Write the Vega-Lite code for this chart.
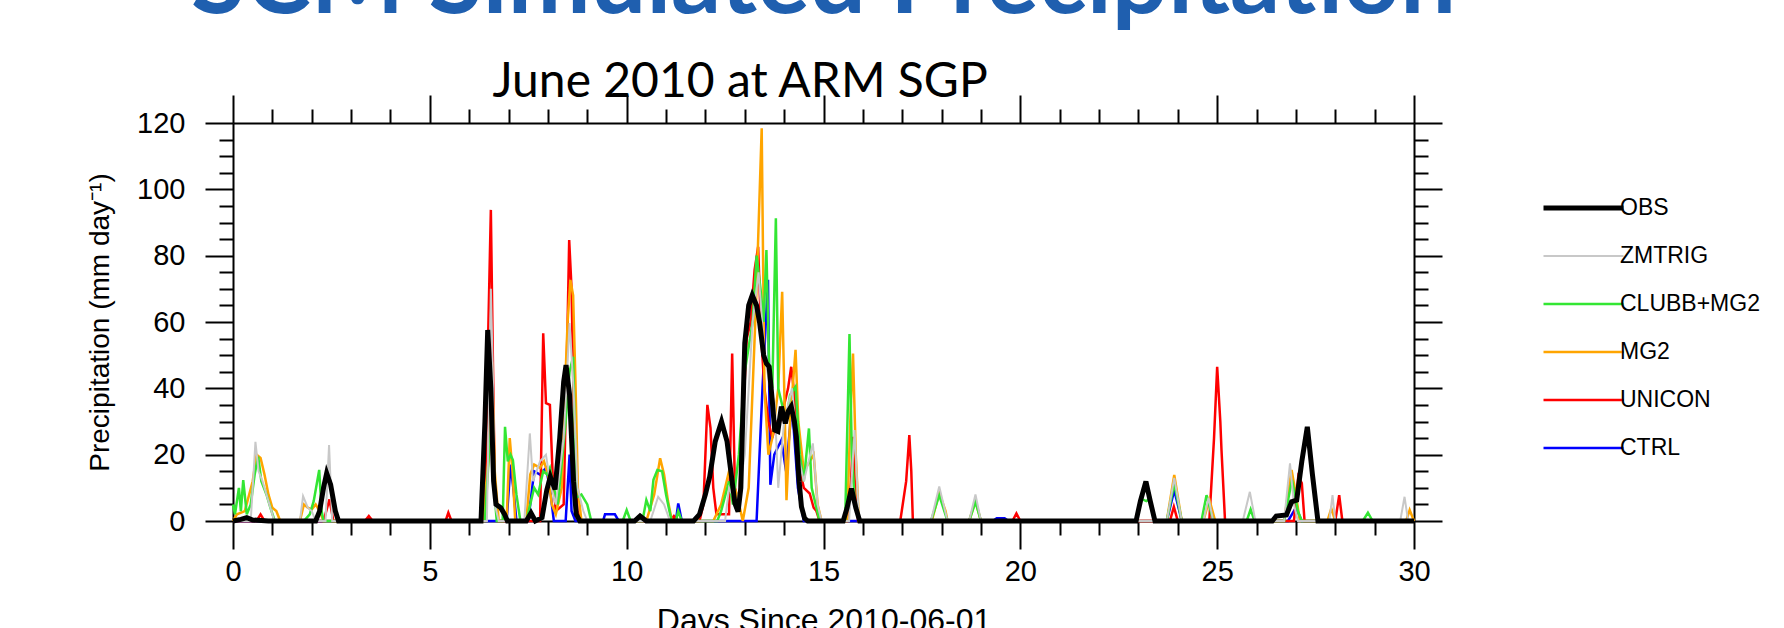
{
"$schema": "https://vega.github.io/schema/vega-lite/v6.json",
"width": 1181, "height": 398,
"autosize": {"type": "none"},
"padding": {"left": 233, "top": 123, "right": 370, "bottom": 107},
"background": "white",
"title": {"text": "SCM Simulated Precipitation", "font": "Lato", "fontSize": 99, "fontWeight": "bold", "color": "#1F5FAF", "anchor": "middle", "baseline": "alphabetic", "offset": 0, "dy": 54},
"config": {"view": {"stroke": null},
 "axis": {"grid": false, "domainColor": "black", "domainWidth": 2, "tickColor": "black", "tickWidth": 2, "labelFont": "Liberation Sans", "labelFontSize": 29, "labelColor": "black", "labelPadding": 20, "labelFlush": false, "labelOverlap": false, "titleFont": "Liberation Sans", "titleFontSize": 28, "titleFontWeight": "normal", "titleColor": "black"}},
"data": {"values": [
{"s":"CTRL","d":0,"v":0},{"s":"CTRL","d":6.95,"v":0},{"s":"CTRL","d":7.05,"v":17},{"s":"CTRL","d":7.12,"v":10},{"s":"CTRL","d":7.2,"v":0},{"s":"CTRL","d":7.5,"v":0},{"s":"CTRL","d":7.65,"v":15},{"s":"CTRL","d":7.8,"v":14},{"s":"CTRL","d":7.95,"v":16},{"s":"CTRL","d":8.05,"v":10},{"s":"CTRL","d":8.15,"v":0},{"s":"CTRL","d":8.45,"v":0},{"s":"CTRL","d":8.55,"v":20},{"s":"CTRL","d":8.6,"v":3},{"s":"CTRL","d":8.7,"v":0},{"s":"CTRL","d":9.4,"v":0},{"s":"CTRL","d":9.45,"v":2},{"s":"CTRL","d":9.7,"v":2},{"s":"CTRL","d":9.8,"v":0},{"s":"CTRL","d":11.25,"v":0},{"s":"CTRL","d":11.31,"v":5.3},{"s":"CTRL","d":11.4,"v":0},{"s":"CTRL","d":13.3,"v":0},{"s":"CTRL","d":13.45,"v":40},{"s":"CTRL","d":13.59,"v":72.7},{"s":"CTRL","d":13.65,"v":10.9},{"s":"CTRL","d":13.75,"v":20},{"s":"CTRL","d":13.93,"v":24.4},{"s":"CTRL","d":14.05,"v":15},{"s":"CTRL","d":14.2,"v":35},{"s":"CTRL","d":14.35,"v":10},{"s":"CTRL","d":14.5,"v":0},{"s":"CTRL","d":19.3,"v":0},{"s":"CTRL","d":19.4,"v":0.8},{"s":"CTRL","d":19.6,"v":0.8},{"s":"CTRL","d":19.7,"v":0},{"s":"CTRL","d":23.72,"v":0},{"s":"CTRL","d":23.91,"v":9.3},{"s":"CTRL","d":24.1,"v":0},{"s":"CTRL","d":26.8,"v":0},{"s":"CTRL","d":27.0,"v":4},{"s":"CTRL","d":27.15,"v":0},{"s":"CTRL","d":30,"v":0},

{"s":"UNICON","d":0,"v":0},{"s":"UNICON","d":0.6,"v":0},{"s":"UNICON","d":0.7,"v":2},{"s":"UNICON","d":0.8,"v":0},{"s":"UNICON","d":2.3,"v":0},{"s":"UNICON","d":2.45,"v":6.5},{"s":"UNICON","d":2.55,"v":0},{"s":"UNICON","d":3.35,"v":0},{"s":"UNICON","d":3.45,"v":1.5},{"s":"UNICON","d":3.55,"v":0},{"s":"UNICON","d":5.4,"v":0},{"s":"UNICON","d":5.47,"v":2.5},{"s":"UNICON","d":5.55,"v":0},{"s":"UNICON","d":6.4,"v":0},{"s":"UNICON","d":6.48,"v":55},{"s":"UNICON","d":6.55,"v":93.8},{"s":"UNICON","d":6.6,"v":50},{"s":"UNICON","d":6.65,"v":10},{"s":"UNICON","d":6.72,"v":0},{"s":"UNICON","d":7.8,"v":0},{"s":"UNICON","d":7.88,"v":56.6},{"s":"UNICON","d":7.95,"v":35.5},{"s":"UNICON","d":8.05,"v":35},{"s":"UNICON","d":8.12,"v":14},{"s":"UNICON","d":8.2,"v":3},{"s":"UNICON","d":8.4,"v":5},{"s":"UNICON","d":8.5,"v":60},{"s":"UNICON","d":8.54,"v":84.7},{"s":"UNICON","d":8.6,"v":70},{"s":"UNICON","d":8.67,"v":25},{"s":"UNICON","d":8.75,"v":3},{"s":"UNICON","d":8.85,"v":0},{"s":"UNICON","d":11.1,"v":0},{"s":"UNICON","d":11.2,"v":1.5},{"s":"UNICON","d":11.3,"v":0},{"s":"UNICON","d":11.85,"v":0},{"s":"UNICON","d":11.95,"v":5},{"s":"UNICON","d":12.05,"v":35},{"s":"UNICON","d":12.13,"v":28},{"s":"UNICON","d":12.2,"v":10},{"s":"UNICON","d":12.28,"v":2},{"s":"UNICON","d":12.6,"v":2},{"s":"UNICON","d":12.68,"v":50.5},{"s":"UNICON","d":12.75,"v":10},{"s":"UNICON","d":12.85,"v":5},{"s":"UNICON","d":12.95,"v":30},{"s":"UNICON","d":13.05,"v":55},{"s":"UNICON","d":13.15,"v":60},{"s":"UNICON","d":13.25,"v":75.7},{"s":"UNICON","d":13.34,"v":82.7},{"s":"UNICON","d":13.42,"v":55},{"s":"UNICON","d":13.5,"v":40},{"s":"UNICON","d":13.6,"v":30},{"s":"UNICON","d":13.7,"v":25},{"s":"UNICON","d":13.8,"v":30},{"s":"UNICON","d":13.9,"v":30},{"s":"UNICON","d":14.0,"v":35},{"s":"UNICON","d":14.1,"v":40},{"s":"UNICON","d":14.18,"v":46.5},{"s":"UNICON","d":14.26,"v":38},{"s":"UNICON","d":14.35,"v":18},{"s":"UNICON","d":14.5,"v":10},{"s":"UNICON","d":14.65,"v":8.3},{"s":"UNICON","d":14.75,"v":4},{"s":"UNICON","d":14.82,"v":3},{"s":"UNICON","d":14.9,"v":0},{"s":"UNICON","d":15.6,"v":0},{"s":"UNICON","d":15.7,"v":12},{"s":"UNICON","d":15.75,"v":25.4},{"s":"UNICON","d":15.8,"v":10},{"s":"UNICON","d":15.88,"v":0},{"s":"UNICON","d":16.95,"v":0},{"s":"UNICON","d":17.1,"v":12},{"s":"UNICON","d":17.18,"v":25.9},{"s":"UNICON","d":17.23,"v":15},{"s":"UNICON","d":17.27,"v":0},{"s":"UNICON","d":19.8,"v":0},{"s":"UNICON","d":19.9,"v":2.3},{"s":"UNICON","d":20.0,"v":0},{"s":"UNICON","d":23.8,"v":0},{"s":"UNICON","d":23.9,"v":4.3},{"s":"UNICON","d":24.0,"v":0},{"s":"UNICON","d":24.8,"v":0},{"s":"UNICON","d":24.92,"v":24.9},{"s":"UNICON","d":25.0,"v":46.5},{"s":"UNICON","d":25.08,"v":30},{"s":"UNICON","d":25.11,"v":21.4},{"s":"UNICON","d":25.2,"v":0},{"s":"UNICON","d":26.95,"v":0},{"s":"UNICON","d":27.06,"v":13.4},{"s":"UNICON","d":27.15,"v":11.4},{"s":"UNICON","d":27.22,"v":0},{"s":"UNICON","d":28.0,"v":0},{"s":"UNICON","d":28.1,"v":7.8},{"s":"UNICON","d":28.18,"v":0},{"s":"UNICON","d":30,"v":0},

{"s":"MG2","d":0,"v":0},{"s":"MG2","d":0.1,"v":2},{"s":"MG2","d":0.3,"v":3},{"s":"MG2","d":0.5,"v":12},{"s":"MG2","d":0.6,"v":20},{"s":"MG2","d":0.7,"v":19},{"s":"MG2","d":0.8,"v":14},{"s":"MG2","d":0.9,"v":8},{"s":"MG2","d":1.0,"v":4},{"s":"MG2","d":1.1,"v":3},{"s":"MG2","d":1.2,"v":0},{"s":"MG2","d":1.7,"v":0},{"s":"MG2","d":1.8,"v":5},{"s":"MG2","d":1.9,"v":4},{"s":"MG2","d":2.0,"v":3.5},{"s":"MG2","d":2.1,"v":5},{"s":"MG2","d":2.2,"v":3},{"s":"MG2","d":2.3,"v":0},{"s":"MG2","d":6.35,"v":0},{"s":"MG2","d":6.5,"v":20},{"s":"MG2","d":6.58,"v":48},{"s":"MG2","d":6.65,"v":15},{"s":"MG2","d":6.75,"v":0},{"s":"MG2","d":6.95,"v":0},{"s":"MG2","d":7.03,"v":25},{"s":"MG2","d":7.1,"v":15},{"s":"MG2","d":7.17,"v":0},{"s":"MG2","d":7.45,"v":0},{"s":"MG2","d":7.55,"v":14},{"s":"MG2","d":7.65,"v":17},{"s":"MG2","d":7.8,"v":16},{"s":"MG2","d":7.9,"v":18},{"s":"MG2","d":8.0,"v":14},{"s":"MG2","d":8.1,"v":5},{"s":"MG2","d":8.2,"v":2},{"s":"MG2","d":8.35,"v":10},{"s":"MG2","d":8.45,"v":45},{"s":"MG2","d":8.5,"v":60},{"s":"MG2","d":8.57,"v":72.7},{"s":"MG2","d":8.64,"v":68},{"s":"MG2","d":8.7,"v":41.6},{"s":"MG2","d":8.76,"v":10},{"s":"MG2","d":8.85,"v":0},{"s":"MG2","d":10.5,"v":0},{"s":"MG2","d":10.7,"v":8},{"s":"MG2","d":10.85,"v":18.9},{"s":"MG2","d":10.95,"v":14},{"s":"MG2","d":11.05,"v":6},{"s":"MG2","d":11.15,"v":0},{"s":"MG2","d":12.2,"v":0},{"s":"MG2","d":12.4,"v":5},{"s":"MG2","d":12.6,"v":15},{"s":"MG2","d":12.8,"v":8},{"s":"MG2","d":12.95,"v":0},{"s":"MG2","d":13.1,"v":10},{"s":"MG2","d":13.3,"v":70},{"s":"MG2","d":13.43,"v":118.4},{"s":"MG2","d":13.5,"v":40},{"s":"MG2","d":13.6,"v":20},{"s":"MG2","d":13.7,"v":25},{"s":"MG2","d":13.85,"v":40},{"s":"MG2","d":13.95,"v":69.1},{"s":"MG2","d":14.02,"v":30},{"s":"MG2","d":14.06,"v":6.3},{"s":"MG2","d":14.15,"v":30},{"s":"MG2","d":14.29,"v":51.6},{"s":"MG2","d":14.36,"v":30},{"s":"MG2","d":14.5,"v":15},{"s":"MG2","d":14.65,"v":18},{"s":"MG2","d":14.75,"v":20},{"s":"MG2","d":14.85,"v":5},{"s":"MG2","d":14.95,"v":0},{"s":"MG2","d":15.6,"v":0},{"s":"MG2","d":15.68,"v":30},{"s":"MG2","d":15.75,"v":50.5},{"s":"MG2","d":15.82,"v":20},{"s":"MG2","d":15.9,"v":0},{"s":"MG2","d":17.75,"v":0},{"s":"MG2","d":17.94,"v":8.5},{"s":"MG2","d":18.1,"v":3},{"s":"MG2","d":18.15,"v":0},{"s":"MG2","d":18.7,"v":0},{"s":"MG2","d":18.86,"v":6},{"s":"MG2","d":19.0,"v":0},{"s":"MG2","d":23.72,"v":0},{"s":"MG2","d":23.91,"v":13.9},{"s":"MG2","d":24.1,"v":0},{"s":"MG2","d":24.65,"v":0},{"s":"MG2","d":24.8,"v":6.5},{"s":"MG2","d":24.95,"v":0},{"s":"MG2","d":26.7,"v":0},{"s":"MG2","d":26.89,"v":15.4},{"s":"MG2","d":27.0,"v":8},{"s":"MG2","d":27.1,"v":0},{"s":"MG2","d":27.8,"v":0},{"s":"MG2","d":27.9,"v":3.8},{"s":"MG2","d":28.0,"v":0},{"s":"MG2","d":29.8,"v":0},{"s":"MG2","d":29.89,"v":3.3},{"s":"MG2","d":30,"v":0},

{"s":"CLUBB+MG2","d":0,"v":5},{"s":"CLUBB+MG2","d":0.05,"v":2},{"s":"CLUBB+MG2","d":0.15,"v":10},{"s":"CLUBB+MG2","d":0.2,"v":3},{"s":"CLUBB+MG2","d":0.26,"v":12.3},{"s":"CLUBB+MG2","d":0.35,"v":2},{"s":"CLUBB+MG2","d":0.45,"v":5},{"s":"CLUBB+MG2","d":0.55,"v":14},{"s":"CLUBB+MG2","d":0.64,"v":19.4},{"s":"CLUBB+MG2","d":0.72,"v":12},{"s":"CLUBB+MG2","d":0.85,"v":8},{"s":"CLUBB+MG2","d":0.95,"v":4},{"s":"CLUBB+MG2","d":1.06,"v":0},{"s":"CLUBB+MG2","d":1.8,"v":0},{"s":"CLUBB+MG2","d":1.95,"v":2},{"s":"CLUBB+MG2","d":2.05,"v":6},{"s":"CLUBB+MG2","d":2.19,"v":15.4},{"s":"CLUBB+MG2","d":2.25,"v":3},{"s":"CLUBB+MG2","d":2.3,"v":0},{"s":"CLUBB+MG2","d":6.4,"v":0},{"s":"CLUBB+MG2","d":6.5,"v":20},{"s":"CLUBB+MG2","d":6.57,"v":30},{"s":"CLUBB+MG2","d":6.63,"v":10},{"s":"CLUBB+MG2","d":6.7,"v":0},{"s":"CLUBB+MG2","d":6.85,"v":0},{"s":"CLUBB+MG2","d":6.91,"v":28.4},{"s":"CLUBB+MG2","d":6.98,"v":18},{"s":"CLUBB+MG2","d":7.05,"v":20},{"s":"CLUBB+MG2","d":7.11,"v":18.4},{"s":"CLUBB+MG2","d":7.2,"v":8},{"s":"CLUBB+MG2","d":7.3,"v":0},{"s":"CLUBB+MG2","d":7.45,"v":0},{"s":"CLUBB+MG2","d":7.55,"v":5},{"s":"CLUBB+MG2","d":7.65,"v":10},{"s":"CLUBB+MG2","d":7.75,"v":8},{"s":"CLUBB+MG2","d":7.88,"v":15},{"s":"CLUBB+MG2","d":7.98,"v":14},{"s":"CLUBB+MG2","d":8.05,"v":16},{"s":"CLUBB+MG2","d":8.15,"v":10},{"s":"CLUBB+MG2","d":8.25,"v":5},{"s":"CLUBB+MG2","d":8.45,"v":30},{"s":"CLUBB+MG2","d":8.55,"v":45},{"s":"CLUBB+MG2","d":8.64,"v":49.5},{"s":"CLUBB+MG2","d":8.72,"v":7},{"s":"CLUBB+MG2","d":8.85,"v":8},{"s":"CLUBB+MG2","d":9.0,"v":5},{"s":"CLUBB+MG2","d":9.1,"v":0},{"s":"CLUBB+MG2","d":9.9,"v":0},{"s":"CLUBB+MG2","d":10.0,"v":3.3},{"s":"CLUBB+MG2","d":10.1,"v":0},{"s":"CLUBB+MG2","d":10.4,"v":0},{"s":"CLUBB+MG2","d":10.5,"v":6.3},{"s":"CLUBB+MG2","d":10.6,"v":3},{"s":"CLUBB+MG2","d":10.68,"v":12.4},{"s":"CLUBB+MG2","d":10.78,"v":15.4},{"s":"CLUBB+MG2","d":10.9,"v":15},{"s":"CLUBB+MG2","d":11.0,"v":8},{"s":"CLUBB+MG2","d":11.14,"v":0},{"s":"CLUBB+MG2","d":11.25,"v":0},{"s":"CLUBB+MG2","d":11.31,"v":3},{"s":"CLUBB+MG2","d":11.4,"v":0},{"s":"CLUBB+MG2","d":12.3,"v":0},{"s":"CLUBB+MG2","d":12.4,"v":3},{"s":"CLUBB+MG2","d":12.6,"v":12},{"s":"CLUBB+MG2","d":12.7,"v":5},{"s":"CLUBB+MG2","d":12.85,"v":20},{"s":"CLUBB+MG2","d":13.0,"v":45},{"s":"CLUBB+MG2","d":13.2,"v":60},{"s":"CLUBB+MG2","d":13.3,"v":80},{"s":"CLUBB+MG2","d":13.4,"v":70},{"s":"CLUBB+MG2","d":13.48,"v":60},{"s":"CLUBB+MG2","d":13.55,"v":81.7},{"s":"CLUBB+MG2","d":13.62,"v":45},{"s":"CLUBB+MG2","d":13.7,"v":40},{"s":"CLUBB+MG2","d":13.79,"v":91.3},{"s":"CLUBB+MG2","d":13.85,"v":40},{"s":"CLUBB+MG2","d":13.95,"v":35},{"s":"CLUBB+MG2","d":14.05,"v":30},{"s":"CLUBB+MG2","d":14.15,"v":38},{"s":"CLUBB+MG2","d":14.29,"v":40.5},{"s":"CLUBB+MG2","d":14.4,"v":20},{"s":"CLUBB+MG2","d":14.5,"v":12},{"s":"CLUBB+MG2","d":14.63,"v":27.9},{"s":"CLUBB+MG2","d":14.7,"v":10},{"s":"CLUBB+MG2","d":14.8,"v":5},{"s":"CLUBB+MG2","d":14.9,"v":0},{"s":"CLUBB+MG2","d":15.55,"v":0},{"s":"CLUBB+MG2","d":15.66,"v":56.4},{"s":"CLUBB+MG2","d":15.72,"v":20},{"s":"CLUBB+MG2","d":15.8,"v":5},{"s":"CLUBB+MG2","d":15.9,"v":0},{"s":"CLUBB+MG2","d":17.73,"v":0},{"s":"CLUBB+MG2","d":17.94,"v":7.8},{"s":"CLUBB+MG2","d":18.15,"v":0},{"s":"CLUBB+MG2","d":18.7,"v":0},{"s":"CLUBB+MG2","d":18.86,"v":5.8},{"s":"CLUBB+MG2","d":19.0,"v":0},{"s":"CLUBB+MG2","d":22.95,"v":0},{"s":"CLUBB+MG2","d":23.05,"v":6.8},{"s":"CLUBB+MG2","d":23.2,"v":6},{"s":"CLUBB+MG2","d":23.3,"v":6.8},{"s":"CLUBB+MG2","d":23.4,"v":0},{"s":"CLUBB+MG2","d":23.72,"v":0},{"s":"CLUBB+MG2","d":23.91,"v":11.4},{"s":"CLUBB+MG2","d":24.1,"v":0},{"s":"CLUBB+MG2","d":24.6,"v":0},{"s":"CLUBB+MG2","d":24.73,"v":7.8},{"s":"CLUBB+MG2","d":24.9,"v":0},{"s":"CLUBB+MG2","d":25.75,"v":0},{"s":"CLUBB+MG2","d":25.85,"v":3.5},{"s":"CLUBB+MG2","d":25.95,"v":0},{"s":"CLUBB+MG2","d":26.7,"v":0},{"s":"CLUBB+MG2","d":26.9,"v":12.4},{"s":"CLUBB+MG2","d":27.05,"v":3},{"s":"CLUBB+MG2","d":27.15,"v":0},{"s":"CLUBB+MG2","d":28.7,"v":0},{"s":"CLUBB+MG2","d":28.83,"v":2.5},{"s":"CLUBB+MG2","d":28.95,"v":0},{"s":"CLUBB+MG2","d":30,"v":0},

{"s":"ZMTRIG","d":0,"v":0},{"s":"ZMTRIG","d":0.45,"v":0},{"s":"ZMTRIG","d":0.57,"v":23.9},{"s":"ZMTRIG","d":0.65,"v":15},{"s":"ZMTRIG","d":0.75,"v":12},{"s":"ZMTRIG","d":0.9,"v":6},{"s":"ZMTRIG","d":1.05,"v":0},{"s":"ZMTRIG","d":1.7,"v":0},{"s":"ZMTRIG","d":1.78,"v":7.5},{"s":"ZMTRIG","d":1.9,"v":4},{"s":"ZMTRIG","d":2.0,"v":3},{"s":"ZMTRIG","d":2.1,"v":0},{"s":"ZMTRIG","d":2.35,"v":0},{"s":"ZMTRIG","d":2.44,"v":22.9},{"s":"ZMTRIG","d":2.52,"v":0},{"s":"ZMTRIG","d":6.45,"v":0},{"s":"ZMTRIG","d":6.55,"v":70},{"s":"ZMTRIG","d":6.6,"v":45},{"s":"ZMTRIG","d":6.65,"v":5},{"s":"ZMTRIG","d":6.75,"v":0},{"s":"ZMTRIG","d":7.4,"v":0},{"s":"ZMTRIG","d":7.54,"v":26.4},{"s":"ZMTRIG","d":7.62,"v":12},{"s":"ZMTRIG","d":7.8,"v":18},{"s":"ZMTRIG","d":7.95,"v":20},{"s":"ZMTRIG","d":8.05,"v":12},{"s":"ZMTRIG","d":8.2,"v":5},{"s":"ZMTRIG","d":8.4,"v":25},{"s":"ZMTRIG","d":8.55,"v":59.7},{"s":"ZMTRIG","d":8.65,"v":40},{"s":"ZMTRIG","d":8.75,"v":10},{"s":"ZMTRIG","d":8.9,"v":3},{"s":"ZMTRIG","d":9.0,"v":0},{"s":"ZMTRIG","d":10.6,"v":0},{"s":"ZMTRIG","d":10.8,"v":7.3},{"s":"ZMTRIG","d":10.95,"v":5},{"s":"ZMTRIG","d":11.1,"v":0},{"s":"ZMTRIG","d":12.5,"v":0},{"s":"ZMTRIG","d":12.6,"v":10},{"s":"ZMTRIG","d":12.8,"v":5},{"s":"ZMTRIG","d":13.0,"v":20},{"s":"ZMTRIG","d":13.2,"v":60},{"s":"ZMTRIG","d":13.35,"v":75},{"s":"ZMTRIG","d":13.5,"v":50},{"s":"ZMTRIG","d":13.65,"v":40},{"s":"ZMTRIG","d":13.76,"v":35.5},{"s":"ZMTRIG","d":13.85,"v":10},{"s":"ZMTRIG","d":14.0,"v":30},{"s":"ZMTRIG","d":14.2,"v":40},{"s":"ZMTRIG","d":14.35,"v":20},{"s":"ZMTRIG","d":14.5,"v":12},{"s":"ZMTRIG","d":14.73,"v":23.4},{"s":"ZMTRIG","d":14.85,"v":5},{"s":"ZMTRIG","d":14.95,"v":0},{"s":"ZMTRIG","d":15.65,"v":0},{"s":"ZMTRIG","d":15.79,"v":27.4},{"s":"ZMTRIG","d":15.9,"v":0},{"s":"ZMTRIG","d":17.73,"v":0},{"s":"ZMTRIG","d":17.94,"v":10.4},{"s":"ZMTRIG","d":18.15,"v":0},{"s":"ZMTRIG","d":18.7,"v":0},{"s":"ZMTRIG","d":18.86,"v":8},{"s":"ZMTRIG","d":19.0,"v":0},{"s":"ZMTRIG","d":23.72,"v":0},{"s":"ZMTRIG","d":23.91,"v":13},{"s":"ZMTRIG","d":24.1,"v":0},{"s":"ZMTRIG","d":24.65,"v":0},{"s":"ZMTRIG","d":24.78,"v":7},{"s":"ZMTRIG","d":24.9,"v":0},{"s":"ZMTRIG","d":25.65,"v":0},{"s":"ZMTRIG","d":25.83,"v":8.8},{"s":"ZMTRIG","d":25.97,"v":0},{"s":"ZMTRIG","d":26.7,"v":0},{"s":"ZMTRIG","d":26.85,"v":17.4},{"s":"ZMTRIG","d":26.95,"v":5},{"s":"ZMTRIG","d":27.05,"v":0},{"s":"ZMTRIG","d":27.85,"v":0},{"s":"ZMTRIG","d":27.93,"v":7.8},{"s":"ZMTRIG","d":28.0,"v":0},{"s":"ZMTRIG","d":29.65,"v":0},{"s":"ZMTRIG","d":29.76,"v":7.3},{"s":"ZMTRIG","d":29.85,"v":0},{"s":"ZMTRIG","d":30,"v":0},

{"s":"OBS","d":0,"v":0},{"s":"OBS","d":0.2,"v":0.5},{"s":"OBS","d":0.35,"v":1},{"s":"OBS","d":0.5,"v":0.3},{"s":"OBS","d":0.9,"v":0},{"s":"OBS","d":2.1,"v":0},{"s":"OBS","d":2.2,"v":3},{"s":"OBS","d":2.3,"v":10},{"s":"OBS","d":2.38,"v":14.4},{"s":"OBS","d":2.48,"v":11},{"s":"OBS","d":2.6,"v":3},{"s":"OBS","d":2.68,"v":0},{"s":"OBS","d":6.3,"v":0},{"s":"OBS","d":6.4,"v":30},{"s":"OBS","d":6.47,"v":57.6},{"s":"OBS","d":6.55,"v":40},{"s":"OBS","d":6.62,"v":12},{"s":"OBS","d":6.68,"v":5},{"s":"OBS","d":6.8,"v":4},{"s":"OBS","d":6.9,"v":2},{"s":"OBS","d":6.97,"v":0},{"s":"OBS","d":7.45,"v":0},{"s":"OBS","d":7.57,"v":2.4},{"s":"OBS","d":7.68,"v":0},{"s":"OBS","d":7.85,"v":1},{"s":"OBS","d":7.97,"v":9.3},{"s":"OBS","d":8.06,"v":13.4},{"s":"OBS","d":8.18,"v":9.5},{"s":"OBS","d":8.3,"v":25},{"s":"OBS","d":8.4,"v":42},{"s":"OBS","d":8.46,"v":47},{"s":"OBS","d":8.55,"v":38},{"s":"OBS","d":8.65,"v":12},{"s":"OBS","d":8.72,"v":2},{"s":"OBS","d":8.81,"v":0},{"s":"OBS","d":10.2,"v":0},{"s":"OBS","d":10.34,"v":1.5},{"s":"OBS","d":10.5,"v":0},{"s":"OBS","d":11.7,"v":0},{"s":"OBS","d":11.85,"v":2},{"s":"OBS","d":12.0,"v":8},{"s":"OBS","d":12.11,"v":13.4},{"s":"OBS","d":12.25,"v":24},{"s":"OBS","d":12.41,"v":30},{"s":"OBS","d":12.55,"v":24},{"s":"OBS","d":12.62,"v":17.4},{"s":"OBS","d":12.75,"v":5.3},{"s":"OBS","d":12.83,"v":2.8},{"s":"OBS","d":12.9,"v":10},{"s":"OBS","d":13.0,"v":53.6},{"s":"OBS","d":13.1,"v":65},{"s":"OBS","d":13.19,"v":68.1},{"s":"OBS","d":13.3,"v":65},{"s":"OBS","d":13.38,"v":59.6},{"s":"OBS","d":13.48,"v":50},{"s":"OBS","d":13.55,"v":47.5},{"s":"OBS","d":13.62,"v":46.5},{"s":"OBS","d":13.7,"v":36},{"s":"OBS","d":13.76,"v":27.4},{"s":"OBS","d":13.84,"v":27},{"s":"OBS","d":13.93,"v":34.5},{"s":"OBS","d":14.03,"v":29.4},{"s":"OBS","d":14.1,"v":33},{"s":"OBS","d":14.18,"v":34.5},{"s":"OBS","d":14.26,"v":30},{"s":"OBS","d":14.31,"v":25.4},{"s":"OBS","d":14.38,"v":12},{"s":"OBS","d":14.44,"v":4.3},{"s":"OBS","d":14.52,"v":0.8},{"s":"OBS","d":14.6,"v":0},{"s":"OBS","d":15.5,"v":0},{"s":"OBS","d":15.6,"v":4},{"s":"OBS","d":15.71,"v":9.8},{"s":"OBS","d":15.82,"v":4},{"s":"OBS","d":15.92,"v":0},{"s":"OBS","d":22.94,"v":0},{"s":"OBS","d":23.05,"v":6},{"s":"OBS","d":23.19,"v":11.9},{"s":"OBS","d":23.3,"v":6},{"s":"OBS","d":23.42,"v":0},{"s":"OBS","d":26.4,"v":0},{"s":"OBS","d":26.5,"v":1.5},{"s":"OBS","d":26.76,"v":1.8},{"s":"OBS","d":26.89,"v":5.8},{"s":"OBS","d":27.02,"v":6.3},{"s":"OBS","d":27.15,"v":18},{"s":"OBS","d":27.29,"v":28.4},{"s":"OBS","d":27.42,"v":14},{"s":"OBS","d":27.56,"v":0},{"s":"OBS","d":30,"v":0}
]},
"layer": [
 {"mark": {"type": "line"},
  "encoding": {
   "x": {"field": "d", "type": "quantitative", "scale": {"domain": [0, 30], "nice": false, "zero": false},
    "axis": {"orient": "bottom", "values": [0,1,2,3,4,5,6,7,8,9,10,11,12,13,14,15,16,17,18,19,20,21,22,23,24,25,26,27,28,29,30],
     "tickSize": {"condition": {"test": "datum.value % 5 === 0", "value": 28}, "value": 14},
     "labelExpr": "datum.value % 5 === 0 ? datum.label : ''", "labelPadding": 8,
     "title": "Days Since 2010-06-01", "titleFontSize": 32, "titlePadding": 19}},
   "y": {"field": "v", "type": "quantitative", "scale": {"domain": [0, 120], "nice": false},
    "axis": {"orient": "left", "values": [0,5,10,15,20,25,30,35,40,45,50,55,60,65,70,75,80,85,90,95,100,105,110,115,120],
     "tickSize": {"condition": {"test": "datum.value % 20 === 0", "value": 28}, "value": 14},
     "labelExpr": "datum.value % 20 === 0 ? datum.label : ''",
     "title": "Precipitation (mm day⁻¹)", "titlePadding": 22}},
   "color": {"field": "s", "type": "nominal", "sort": null,
    "scale": {"domain": ["OBS","ZMTRIG","CLUBB+MG2","MG2","UNICON","CTRL"], "range": ["#000000","#C8C8C8","#33E633","#FFA500","#FF0000","#0000FF"]},
    "legend": {"orient": "none", "legendX": 1308, "legendY": 61, "title": null, "symbolType": "stroke", "symbolSize": 6400, "clipHeight": 48, "rowPadding": 0, "labelOffset": -6, "padding": 0,
     "labelFont": "Liberation Sans", "labelFontSize": 23, "labelColor": "black", "labelLimit": 300,
     "encode": {"symbols": {"update": {"strokeWidth": {"signal": "datum.value === 'OBS' ? 9 : (datum.value === 'ZMTRIG' ? 3 : 5)"}}}}}},
   "strokeWidth": {"field": "s", "type": "nominal",
    "scale": {"type": "ordinal", "domain": ["OBS","ZMTRIG","CLUBB+MG2","MG2","UNICON","CTRL"], "range": [5, 2, 2.5, 2.5, 2.5, 2.5]}, "legend": null}
  }},
 {"mark": {"type": "point", "opacity": 0},
  "encoding": {
   "x": {"field": "d", "type": "quantitative",
    "axis": {"orient": "top", "values": [0,1,2,3,4,5,6,7,8,9,10,11,12,13,14,15,16,17,18,19,20,21,22,23,24,25,26,27,28,29,30],
     "tickSize": {"condition": {"test": "datum.value % 5 === 0", "value": 28}, "value": 14},
     "labels": false,
     "title": "June 2010 at ARM SGP", "titleFont": "Lato", "titleFontSize": 48, "titleFontWeight": "normal",
     "titleX": 259, "titleY": -27, "titleAlign": "left", "titleBaseline": "alphabetic", "titleAngle": 0}},
   "y": {"field": "v", "type": "quantitative",
    "axis": {"orient": "right", "values": [0,5,10,15,20,25,30,35,40,45,50,55,60,65,70,75,80,85,90,95,100,105,110,115,120],
     "tickSize": {"condition": {"test": "datum.value % 20 === 0", "value": 28}, "value": 14},
     "labels": false, "title": null}}
  }}
],
"resolve": {"axis": {"x": "independent", "y": "independent"}}
}
